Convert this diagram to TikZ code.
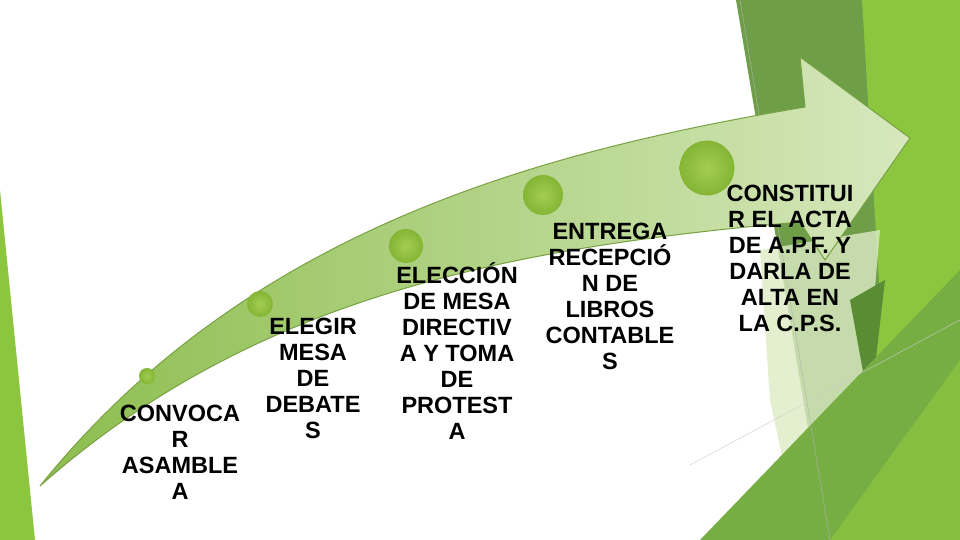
\documentclass[tikz,border=0pt]{standalone}
\usepackage{fontspec}
\setmainfont{Liberation Sans}
\begin{document}
\begin{tikzpicture}[x=1pt,y=-1pt,
  lbl/.style={align=center,font=\fontsize{23.5}{26}\selectfont\bfseries,inner sep=0pt},
  dot/.style={circle,inner sep=0pt,draw=none,inner color=dotL,outer color=dotc}]
\definecolor{gA}{HTML}{6E9E48}
\definecolor{gB}{HTML}{8CC63F}
\definecolor{gC}{HTML}{76AE44}
\definecolor{gD}{HTML}{5A8C34}
\definecolor{gP}{HTML}{DCEBC4}
\definecolor{arrL}{HTML}{8DBD4E}
\definecolor{arrR}{HTML}{D6E8BD}
\definecolor{dotc}{HTML}{84B534}
\definecolor{dotL}{HTML}{A3CD52}
\useasboundingbox (0,0) rectangle (960,540);
\fill[white] (0,0) rectangle (960,540);
% background facets
\fill[gA] (736,0) -- (868,0) -- (886,380) -- (810,440) -- cycle;
\fill[gB] (862,0) -- (960,0) -- (960,540) -- (820,540) -- (880,300) -- cycle;
\fill[gP,opacity=0.8] (760,250) -- (880,230) -- (860,460) -- (800,540) -- (770,400) -- cycle;
\fill[gD] (850,300) -- (885,280) -- (870,410) -- cycle;
\fill[gC] (700,540) -- (960,270) -- (960,540) -- cycle;
\fill[gB,opacity=0.7] (830,540) -- (960,360) -- (960,540) -- cycle;
\fill[gB] (0,190) -- (35,540) -- (0,540) -- cycle;
\draw[gray!60,line width=0.4pt] (740,0) -- (830,540);
\draw[gray!40,line width=0.4pt] (690,465) -- (960,320);
% arrow
\shade[left color=arrL,right color=arrR,draw=arrL!85!black,line width=1pt]
  (40,486) .. controls (250,225) and (550,150) .. (805,107)
  -- (800,57) -- (910,138) -- (825,260) -- (800,222)
  .. controls (500,248) and (250,300) .. (40,486) -- cycle;
% dots
\node[dot,minimum size=16pt] (d1) at (147,376) {};
\node[dot,minimum size=26pt] (d2) at (260,304) {};
\node[dot,minimum size=34pt] (d3) at (406,246) {};
\node[dot,minimum size=40pt] (d4) at (543,195) {};
\node[dot,minimum size=55pt] (d5) at (707,168) {};
% labels
\node[lbl,anchor=north] (t1) at (180,405) {CONVOCA\\R\\ASAMBLE\\A};
\node[lbl,anchor=north] (t2) at (313,318) {ELEGIR\\MESA\\DE\\DEBATE\\S};
\node[lbl,anchor=north] (t3) at (457,262) {ELECCIÓN\\DE MESA\\DIRECTIV\\A Y TOMA\\DE\\PROTEST\\A};
\node[lbl,anchor=north] (t4) at (610,223) {ENTREGA\\RECEPCIÓ\\N DE\\LIBROS\\CONTABLE\\S};
\node[lbl,anchor=north] (t5) at (790,185) {CONSTITUI\\R EL ACTA\\DE A.P.F. Y\\DARLA DE\\ALTA EN\\LA C.P.S.};
\end{tikzpicture}
\end{document}
